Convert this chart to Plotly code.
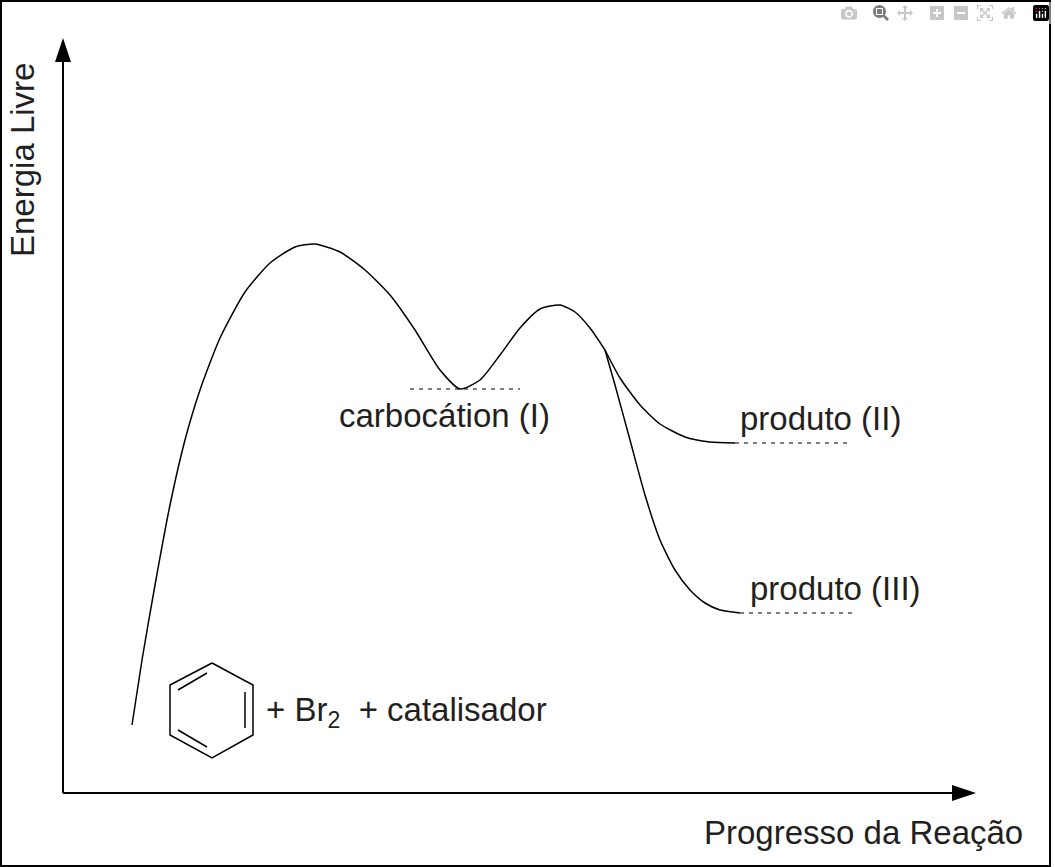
import plotly.graph_objects as go

# curve (pixel-like coordinates, y grows downward)
main_x = [132, 142, 155, 170, 185, 200, 220, 245, 270, 295, 315, 340, 365, 390, 415, 440, 460, 480, 500, 520, 540, 560, 575, 590, 605]
main_y = [725, 660, 585, 505, 440, 390, 338, 292, 263, 247, 244, 252, 270, 295, 330, 370, 389, 380, 355, 328, 309, 305, 312, 328, 350]
p2_x = [605, 620, 640, 660, 685, 710, 735]
p2_y = [350, 378, 405, 424, 437, 442, 443]
p3_x = [605, 615, 630, 645, 660, 675, 690, 705, 720, 740]
p3_y = [350, 385, 440, 495, 540, 570, 590, 603, 610, 613]

dash_lines = [([410, 520], [389, 389]), ([735, 850], [443, 443]), ([740, 855], [613, 613])]

hex_x = [212, 253, 253, 212, 170, 170, 212]
hex_y = [663, 685, 735, 758, 735, 685, 663]
inner_bonds = [([178, 207], [690, 673]), ([245, 245], [692, 728]), ([178, 207], [730, 747])]

labels = [
    (337, 415, "carbocátion (I)", "left"),
    (738, 418, "produto (II)", "left"),
    (748, 588, "produto (III)", "left"),
    (264, 712, "+ Br<sub>2</sub>  + catalisador", "left"),
    (1025, 832, "Progresso da Reação", "right"),
]

fig = go.Figure()
line = dict(color="black", width=1.5)
for xs, ys in [(main_x, main_y), (p2_x, p2_y), (p3_x, p3_y), (hex_x, hex_y)] + inner_bonds:
    fig.add_trace(go.Scatter(x=xs, y=ys, mode="lines", line=dict(line, shape="spline", smoothing=0.6) if xs is not hex_x and len(xs) > 2 else line, hoverinfo="skip"))
for xs, ys in dash_lines:
    fig.add_trace(go.Scatter(x=xs, y=ys, mode="lines", line=dict(color="black", width=1.2, dash="4px,5px"), hoverinfo="skip"))

for x, y, t, a in labels:
    fig.add_annotation(x=x, y=y, text=t, showarrow=False, xanchor=a, yanchor="middle",
                       font=dict(family="Liberation Sans, Arial", size=33, color="#231f20"))
fig.add_annotation(x=22, y=160, text="Energia Livre", textangle=-90, showarrow=False,
                   font=dict(family="Liberation Sans, Arial", size=33, color="#231f20"))

# axes with arrows
fig.add_shape(type="line", x0=63, y0=793, x1=63, y1=55, line=dict(color="black", width=2))
fig.add_shape(type="line", x0=63, y0=793, x1=960, y1=793, line=dict(color="black", width=2))
fig.add_shape(type="path", path="M 55 62 L 71 62 L 63 38 Z", fillcolor="black", line=dict(width=0))
fig.add_shape(type="path", path="M 952 785 L 952 801 L 976 793 Z", fillcolor="black", line=dict(width=0))
fig.add_shape(type="rect", x0=1, y0=1, x1=1050, y1=866, line=dict(color="black", width=2))

fig.update_xaxes(range=[0, 1055], visible=False)
fig.update_yaxes(range=[867, 0], visible=False)
fig.update_layout(width=1055, height=867, margin=dict(l=0, r=0, t=0, b=0),
                  plot_bgcolor="white", paper_bgcolor="white", showlegend=False)
fig.write_html("out.html", post_script="document.body.style.margin='0';")
